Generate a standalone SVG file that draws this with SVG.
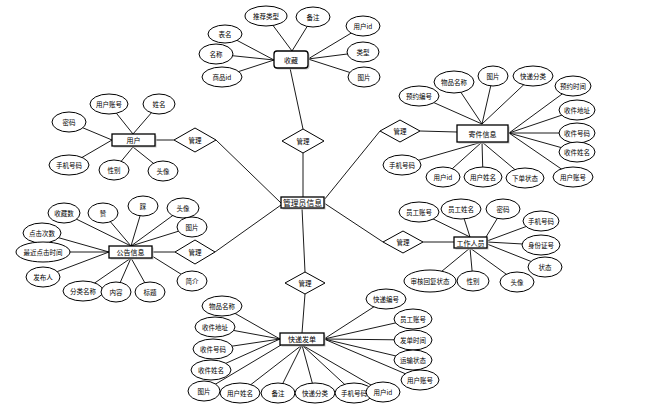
<svg xmlns="http://www.w3.org/2000/svg" width="652" height="413" viewBox="0 0 652 413">
<style>
.bg{fill:#fff}
.c line{stroke:#000;stroke-width:0.9}
.a ellipse{fill:#fff;stroke:#000;stroke-width:1}
.e rect.s{fill:#c4c4c4;stroke:none}
.e rect.b{fill:#fff;stroke:#000;stroke-width:1.3}
.r polygon{fill:#fff;stroke:#000;stroke-width:1}
text{font-family:"Noto Sans CJK SC","Noto Sans",sans-serif;font-size:6.5px;text-anchor:middle;dominant-baseline:central;fill:#000}
.e text{font-size:7px}
#admin text{font-size:7.8px}
</style>
<rect class="bg" x="0" y="0" width="652" height="413"/>
<g id="connectors" class="c">
<line x1="225" y1="34" x2="274" y2="60"/><line x1="216" y1="54" x2="274" y2="60"/><line x1="222" y1="77" x2="274" y2="60"/>
<line x1="266" y1="16" x2="292" y2="51"/><line x1="313" y1="17" x2="292" y2="51"/>
<line x1="363" y1="26" x2="308" y2="59"/><line x1="363" y1="52" x2="308" y2="59"/><line x1="364" y1="77" x2="308" y2="59"/>
<line x1="290" y1="68" x2="303" y2="129"/><line x1="303" y1="153" x2="303" y2="197"/>
<line x1="419" y1="96" x2="482" y2="124"/><line x1="454" y1="82" x2="482" y2="124"/><line x1="493" y1="76" x2="482" y2="124"/><line x1="533" y1="76" x2="482" y2="124"/>
<line x1="573" y1="86" x2="509" y2="133"/><line x1="577" y1="110" x2="509" y2="133"/><line x1="577" y1="133" x2="509" y2="133"/><line x1="577" y1="152" x2="509" y2="133"/><line x1="573" y1="177" x2="509" y2="133"/>
<line x1="525" y1="178" x2="482" y2="142"/><line x1="483" y1="177" x2="482" y2="142"/><line x1="443" y1="177" x2="482" y2="142"/><line x1="402" y1="165" x2="482" y2="142"/>
<line x1="420" y1="131" x2="457" y2="132"/><line x1="324" y1="200" x2="380" y2="131"/>
<line x1="109" y1="104" x2="133" y2="134"/><line x1="159" y1="104" x2="133" y2="134"/><line x1="69" y1="122" x2="112" y2="140"/><line x1="69" y1="165" x2="112" y2="140"/><line x1="114" y1="170" x2="133" y2="147"/><line x1="163" y1="171" x2="133" y2="147"/>
<line x1="156" y1="140" x2="174" y2="140"/><line x1="216" y1="140" x2="281" y2="203"/>
<line x1="419" y1="212" x2="470" y2="237"/><line x1="461" y1="209" x2="470" y2="237"/><line x1="503" y1="209" x2="486" y2="237"/><line x1="541" y1="221" x2="487" y2="241"/><line x1="541" y1="245" x2="487" y2="242"/><line x1="545" y1="267" x2="487" y2="244"/>
<line x1="430" y1="281" x2="470" y2="248"/><line x1="473" y1="281" x2="470" y2="248"/><line x1="517" y1="282" x2="470" y2="248"/>
<line x1="423" y1="242" x2="454" y2="242"/><line x1="324" y1="203" x2="383" y2="242"/>
<line x1="64" y1="213" x2="131" y2="246"/><line x1="103" y1="213" x2="131" y2="246"/><line x1="143" y1="206" x2="131" y2="246"/><line x1="183" y1="208" x2="131" y2="246"/><line x1="192" y1="227" x2="131" y2="246"/>
<line x1="42" y1="233" x2="109" y2="252"/><line x1="43" y1="252" x2="109" y2="252"/><line x1="43" y1="277" x2="109" y2="252"/>
<line x1="83" y1="291" x2="131" y2="258"/><line x1="116" y1="292" x2="131" y2="258"/><line x1="150" y1="292" x2="131" y2="258"/><line x1="192" y1="281" x2="152" y2="256"/>
<line x1="152" y1="252" x2="175" y2="252"/><line x1="215" y1="252" x2="281" y2="205"/>
<line x1="222" y1="306" x2="280" y2="339"/><line x1="215" y1="327" x2="280" y2="339"/><line x1="213" y1="349" x2="280" y2="339"/><line x1="211" y1="370" x2="280" y2="339"/><line x1="204" y1="391" x2="281" y2="345"/>
<line x1="240" y1="393" x2="302" y2="345"/><line x1="278" y1="393" x2="302" y2="345"/><line x1="315" y1="393" x2="302" y2="345"/><line x1="354" y1="393" x2="302" y2="345"/><line x1="383" y1="392" x2="302" y2="345"/>
<line x1="386" y1="299" x2="324" y2="339"/><line x1="413" y1="319" x2="324" y2="339"/><line x1="413" y1="340" x2="324" y2="339"/><line x1="413" y1="360" x2="324" y2="339"/><line x1="420" y1="380" x2="324" y2="339"/>
<line x1="305" y1="294" x2="302" y2="333"/><line x1="302" y1="208" x2="305" y2="272"/>
</g>
<g id="relations" class="r">
<g id="rel-top"><polygon points="282,141 303,129 324,141 303,153"/><text x="303" y="141">管理</text></g>
<g id="rel-rt"><polygon points="380,131 400,120 420,131 400,142"/><text x="400" y="131">管理</text></g>
<g id="rel-user"><polygon points="174,140 195,128 216,140 195,152"/><text x="195" y="140">管理</text></g>
<g id="rel-worker"><polygon points="383,242 403,231 423,242 403,253"/><text x="403" y="242">管理</text></g>
<g id="rel-notice"><polygon points="175,252 195,240 215,252 195,264"/><text x="195" y="252">管理</text></g>
<g id="rel-bottom"><polygon points="285,283 305,272 325,283 305,294"/><text x="305" y="283">管理</text></g>
</g>
<g id="admin" class="e"><rect class="s" x="282.5" y="198.5" width="43" height="11"/><rect class="b" x="281" y="197" width="43" height="11"/><text x="302.5" y="202.5">管理员信息</text></g>
<g id="shoucang" class="e"><rect class="s" x="275.5" y="52.5" width="34" height="17" rx="3"/><rect class="b" x="274" y="51" width="34" height="17" rx="3"/><text x="291" y="59.5">收藏</text></g>
<g id="jijian" class="e"><rect class="s" x="458.5" y="126.5" width="51" height="17"/><rect class="b" x="457" y="125" width="51" height="17"/><text x="482.5" y="133.5">寄件信息</text></g>
<g id="yonghu" class="e"><rect class="s" x="113.5" y="135.5" width="43" height="12"/><rect class="b" x="112" y="134" width="43" height="12"/><text x="133.5" y="140">用户</text></g>
<g id="gongzuo" class="e"><rect class="s" x="455.5" y="238.5" width="33" height="11"/><rect class="b" x="454" y="237" width="33" height="11"/><text x="470.5" y="242.5">工作人员</text></g>
<g id="gonggao" class="e"><rect class="s" x="110.5" y="247.5" width="43" height="12"/><rect class="b" x="109" y="246" width="43" height="12"/><text x="130.5" y="252">公告信息</text></g>
<g id="kuaidi" class="e"><rect class="s" x="281.5" y="334.5" width="44" height="12"/><rect class="b" x="280" y="333" width="44" height="12"/><text x="302" y="339">快递发单</text></g>
<g id="attrs" class="a">
<g id="a1"><ellipse cx="225" cy="34" rx="17" ry="9"/><text x="225" y="34">表名</text></g>
<g id="a2"><ellipse cx="216" cy="54" rx="17" ry="10"/><text x="216" y="54">名称</text></g>
<g id="a3"><ellipse cx="222" cy="77" rx="20" ry="10"/><text x="222" y="77">商品id</text></g>
<g id="a4"><ellipse cx="266" cy="16" rx="21" ry="10"/><text x="266" y="16">推荐类型</text></g>
<g id="a5"><ellipse cx="313" cy="17" rx="17" ry="10"/><text x="313" y="17">备注</text></g>
<g id="a6"><ellipse cx="363" cy="26" rx="17" ry="10"/><text x="363" y="26">用户id</text></g>
<g id="a7"><ellipse cx="363" cy="52" rx="16" ry="10"/><text x="363" y="52">类型</text></g>
<g id="a8"><ellipse cx="364" cy="77" rx="16" ry="10"/><text x="364" y="77">图片</text></g>
<g id="b1"><ellipse cx="419" cy="96" rx="20" ry="10"/><text x="419" y="96">预约编号</text></g>
<g id="b2"><ellipse cx="454" cy="82" rx="20" ry="11"/><text x="454" y="82">物品名称</text></g>
<g id="b3"><ellipse cx="493" cy="76" rx="15" ry="10"/><text x="493" y="76">图片</text></g>
<g id="b4"><ellipse cx="533" cy="76" rx="20" ry="10"/><text x="533" y="76">快递分类</text></g>
<g id="b5"><ellipse cx="573" cy="86" rx="18" ry="10"/><text x="573" y="86">预约时间</text></g>
<g id="b6"><ellipse cx="577" cy="110" rx="18" ry="10"/><text x="577" y="110">收件地址</text></g>
<g id="b7"><ellipse cx="577" cy="133" rx="18" ry="10"/><text x="577" y="133">收件号码</text></g>
<g id="b8"><ellipse cx="577" cy="152" rx="18" ry="10"/><text x="577" y="152">收件姓名</text></g>
<g id="b9"><ellipse cx="573" cy="177" rx="20" ry="10"/><text x="573" y="177">用户账号</text></g>
<g id="b10"><ellipse cx="525" cy="178" rx="19" ry="10"/><text x="525" y="178">下单状态</text></g>
<g id="b11"><ellipse cx="483" cy="177" rx="19" ry="10"/><text x="483" y="177">用户姓名</text></g>
<g id="b12"><ellipse cx="443" cy="177" rx="17" ry="10"/><text x="443" y="177">用户id</text></g>
<g id="b13"><ellipse cx="402" cy="165" rx="19" ry="10"/><text x="402" y="165">手机号码</text></g>
<g id="c1"><ellipse cx="109" cy="104" rx="19" ry="10"/><text x="109" y="104">用户账号</text></g>
<g id="c2"><ellipse cx="159" cy="104" rx="16" ry="10"/><text x="159" y="104">姓名</text></g>
<g id="c3"><ellipse cx="69" cy="122" rx="17" ry="10"/><text x="69" y="122">密码</text></g>
<g id="c4"><ellipse cx="69" cy="165" rx="20" ry="10"/><text x="69" y="165">手机号码</text></g>
<g id="c5"><ellipse cx="114" cy="170" rx="15" ry="10"/><text x="114" y="170">性别</text></g>
<g id="c6"><ellipse cx="163" cy="171" rx="15" ry="10"/><text x="163" y="171">头像</text></g>
<g id="d1"><ellipse cx="419" cy="212" rx="20" ry="10"/><text x="419" y="212">员工账号</text></g>
<g id="d2"><ellipse cx="461" cy="209" rx="20" ry="10"/><text x="461" y="209">员工姓名</text></g>
<g id="d3"><ellipse cx="503" cy="209" rx="17" ry="10"/><text x="503" y="209">密码</text></g>
<g id="d4"><ellipse cx="541" cy="221" rx="18" ry="10"/><text x="541" y="221">手机号码</text></g>
<g id="d5"><ellipse cx="541" cy="245" rx="19" ry="10"/><text x="541" y="245">身份证号</text></g>
<g id="d6"><ellipse cx="545" cy="267" rx="17" ry="10"/><text x="545" y="267">状态</text></g>
<g id="d7"><ellipse cx="430" cy="281" rx="26" ry="11"/><text x="430" y="281">审核回复状态</text></g>
<g id="d8"><ellipse cx="473" cy="281" rx="16" ry="10"/><text x="473" y="281">性别</text></g>
<g id="d9"><ellipse cx="517" cy="282" rx="17" ry="10"/><text x="517" y="282">头像</text></g>
<g id="e1"><ellipse cx="64" cy="213" rx="16" ry="10"/><text x="64" y="213">收藏数</text></g>
<g id="e2"><ellipse cx="103" cy="213" rx="15" ry="10"/><text x="103" y="213">赞</text></g>
<g id="e3"><ellipse cx="143" cy="206" rx="15" ry="10"/><text x="143" y="206">踩</text></g>
<g id="e4"><ellipse cx="183" cy="208" rx="16" ry="10"/><text x="183" y="208">头像</text></g>
<g id="e5"><ellipse cx="192" cy="227" rx="15" ry="10"/><text x="192" y="227">图片</text></g>
<g id="e6"><ellipse cx="42" cy="233" rx="19" ry="10"/><text x="42" y="233">点击次数</text></g>
<g id="e7"><ellipse cx="43" cy="252" rx="27" ry="10"/><text x="43" y="252">最近点击时间</text></g>
<g id="e8"><ellipse cx="43" cy="277" rx="17" ry="10"/><text x="43" y="277">发布人</text></g>
<g id="e9"><ellipse cx="83" cy="291" rx="20" ry="10"/><text x="83" y="291">分类名称</text></g>
<g id="e10"><ellipse cx="116" cy="292" rx="15" ry="10"/><text x="116" y="292">内容</text></g>
<g id="e11"><ellipse cx="150" cy="292" rx="15" ry="10"/><text x="150" y="292">标题</text></g>
<g id="e12"><ellipse cx="192" cy="281" rx="15" ry="10"/><text x="192" y="281">简介</text></g>
<g id="f1"><ellipse cx="222" cy="306" rx="20" ry="10"/><text x="222" y="306">物品名称</text></g>
<g id="f2"><ellipse cx="215" cy="327" rx="20" ry="10"/><text x="215" y="327">收件地址</text></g>
<g id="f3"><ellipse cx="213" cy="349" rx="20" ry="10"/><text x="213" y="349">收件号码</text></g>
<g id="f4"><ellipse cx="211" cy="370" rx="20" ry="10"/><text x="211" y="370">收件姓名</text></g>
<g id="f5"><ellipse cx="204" cy="391" rx="16" ry="10"/><text x="204" y="391">图片</text></g>
<g id="f6"><ellipse cx="240" cy="393" rx="20" ry="10"/><text x="240" y="393">用户姓名</text></g>
<g id="f7"><ellipse cx="278" cy="393" rx="17" ry="10"/><text x="278" y="393">备注</text></g>
<g id="f8"><ellipse cx="315" cy="393" rx="20" ry="10"/><text x="315" y="393">快递分类</text></g>
<g id="f9"><ellipse cx="354" cy="393" rx="19" ry="10"/><text x="354" y="393">手机号码</text></g>
<g id="f10"><ellipse cx="383" cy="392" rx="17" ry="10"/><text x="383" y="392">用户id</text></g>
<g id="f11"><ellipse cx="386" cy="299" rx="20" ry="10"/><text x="386" y="299">快递编号</text></g>
<g id="f12"><ellipse cx="413" cy="319" rx="19" ry="10"/><text x="413" y="319">员工账号</text></g>
<g id="f13"><ellipse cx="413" cy="340" rx="19" ry="10"/><text x="413" y="340">发单时间</text></g>
<g id="f14"><ellipse cx="413" cy="360" rx="19" ry="10"/><text x="413" y="360">运输状态</text></g>
<g id="f15"><ellipse cx="420" cy="380" rx="19" ry="10"/><text x="420" y="380">用户账号</text></g>
</g>
</svg>
